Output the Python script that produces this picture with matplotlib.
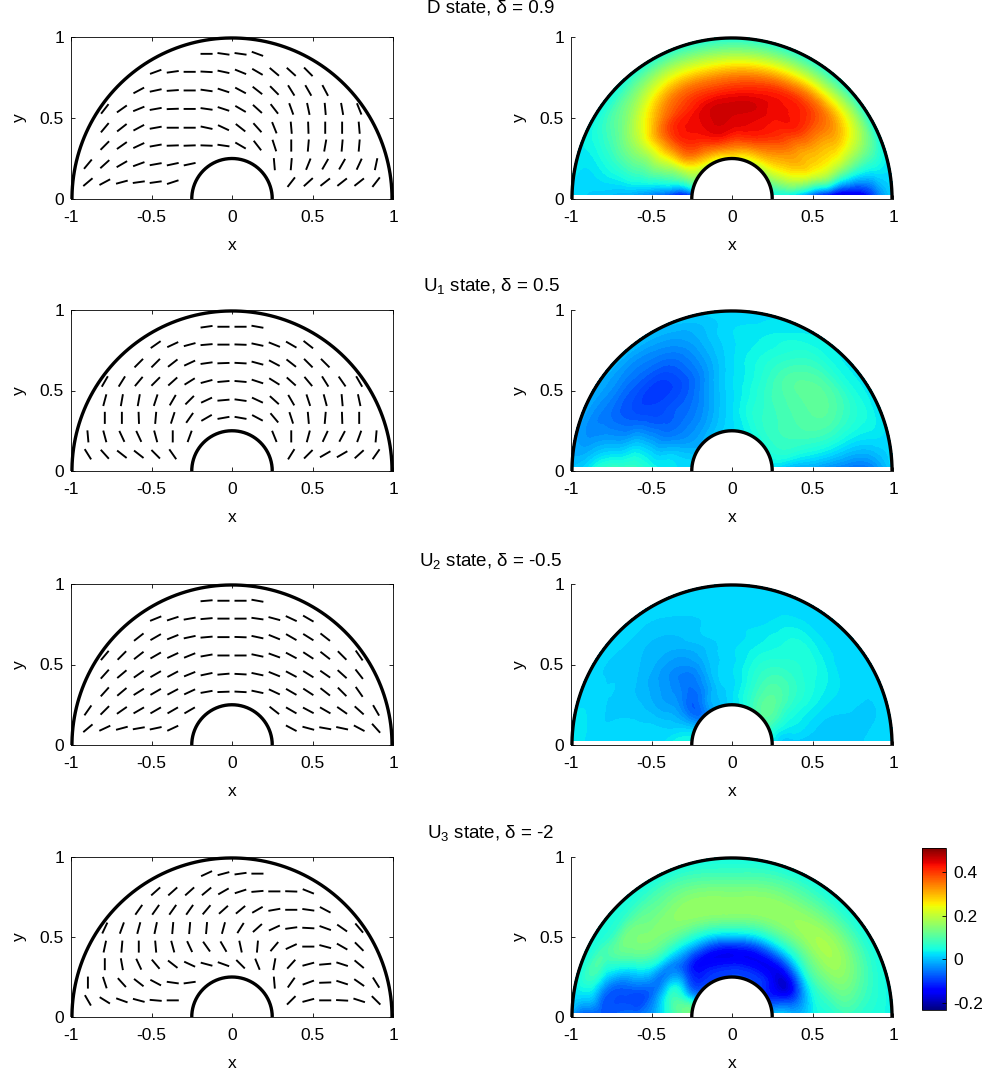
import numpy as np
import matplotlib
matplotlib.use('Agg')
from matplotlib import pyplot as plt
from matplotlib import tri
from matplotlib.patches import Rectangle

plt.rcParams['font.family'] = ['Liberation Sans', 'DejaVu Sans']
plt.rcParams['mathtext.default'] = 'regular'
plt.rcParams['axes.linewidth'] = 0.6

W, H = 989, 1071

titles = ['D state, δ = 0.9', 'U$_1$ state, δ = 0.5', 'U$_2$ state, δ = -0.5', 'U$_3$ state, δ = -2']
title_px = [8, 286, 561, 833]
row_top = [37, 310, 584, 857]
row_bottom = [199, 471, 745, 1017]

x_ticks = [-1, -0.5, 0, 0.5, 1]
x_tick_labels = ['-1', '-0.5', '0', '0.5', '1']
y_ticks = [0, 0.5, 1]
y_tick_labels = ['0', '0.5', '1']
cbar_ticks = [-0.2, 0, 0.2, 0.4]
cbar_tick_labels = ['-0.2', '0', '0.2', '0.4']
vmin, vmax = -0.232, 0.509

# director sample grid
col_x = [-0.895, -0.790, -0.684, -0.579, -0.474, -0.368, -0.263, -0.158, -0.053,
         0.053, 0.158, 0.263, 0.368, 0.474, 0.579, 0.684, 0.790, 0.895]
row_y = [0.896, 0.785, 0.67, 0.556, 0.44, 0.33, 0.215, 0.104]
row_cols = [
    [7, 8, 9, 10],
    [4, 5, 6, 7, 8, 9, 10, 11, 12, 13],
    [3, 4, 5, 6, 7, 8, 9, 10, 11, 12, 13, 14],
    [1, 2, 3, 4, 5, 6, 7, 8, 9, 10, 11, 12, 13, 14, 15, 16],
    [1, 2, 3, 4, 5, 6, 7, 8, 9, 10, 11, 12, 13, 14, 15, 16],
    [1, 2, 3, 4, 5, 6, 7, 8, 9, 10, 11, 12, 13, 14, 15, 16],
    [0, 1, 2, 3, 4, 5, 6, 11, 12, 13, 14, 15, 16, 17],
    [0, 1, 2, 3, 4, 5, 12, 13, 14, 15, 16, 17],
]

# director angles in degrees, one list per row
angles_d = [
    [0, -8, -8, -20],
    [20, 8, 0, -3, -12, -22, -30, -40, -42, -45],
    [28, 12, 4, 0, -8, -18, -28, -38, -45, -58, -60, -62],
    [52, 35, 22, 10, 2, 0, -8, -18, -30, -42, -52, -70, -78, -85, -80, -68],
    [50, 38, 28, 10, 0, 0, -12, -25, -38, -48, -68, -85, -88, 90, 90, -85],
    [45, 35, 25, 10, 2, 2, -2, -8, -30, -52, -72, 90, 85, 80, 85, 85],
    [50, 42, 30, 20, 10, 12, 12, -85, 85, 68, 60, 60, 65, 78],
    [40, 28, 15, 8, 8, 18, 52, 42, 38, 38, 38, 52],
]
angles_u1 = [
    [8, 0, 0, -10],
    [35, 25, 15, 5, 0, -2, -12, -22, -30, -38],
    [45, 45, 38, 25, 8, 2, -3, -15, -28, -38, -45, -45],
    [60, 58, 50, 45, 42, 32, 15, 5, -5, -18, -32, -42, -50, -58, -55, -60],
    [75, 80, 80, 72, 60, 45, 25, 5, -8, -25, -42, -60, -72, -75, -85, -78],
    [90, 90, -88, 85, 72, 55, 30, 10, -10, -28, -50, -72, -85, 85, -88, 90],
    [-85, -75, -65, -65, -75, 90, 70, -68, 90, 75, 65, 62, 70, 85],
    [-58, -48, -38, -38, -45, -55, 58, 45, 30, 30, 42, 55],
]
angles_u2 = [
    [5, 0, 0, -10],
    [22, 18, 10, 5, 0, 0, -8, -15, -25, -30],
    [38, 30, 22, 12, 5, 0, -2, -12, -22, -30, -32, -38],
    [50, 45, 38, 30, 25, 22, 10, 0, 0, -12, -20, -28, -33, -38, -45, -55],
    [48, 40, 35, 30, 28, 22, 12, 5, -3, -12, -22, -28, -32, -35, -42, -52],
    [48, 40, 32, 30, 28, 25, 10, 2, -3, -12, -25, -30, -33, -38, -45, -55],
    [55, 45, 35, 30, 30, 30, 30, -38, -30, -28, -30, -35, -42, -60],
    [40, 25, 15, 10, 12, 25, -28, -15, -10, -12, -28, -48],
]
angles_u3 = [
    [25, 15, 8, 0],
    [42, 42, 42, 40, 30, 18, 5, 0, -2, -22],
    [55, 55, 55, 55, 50, 42, 40, 30, 10, 0, -8, -28],
    [65, 70, 75, 78, 85, 85, 85, 75, 58, 42, 25, 8, -3, -20, -35, -50],
    [78, 85, 90, -85, -75, -65, -55, -60, -78, 85, 50, 25, 0, -15, -30, -45],
    [90, -80, -65, -50, -38, -25, -15, -20, -45, -68, 80, 48, 15, 5, -18, -40],
    [90, -72, -48, -38, -28, -8, 8, -85, 55, 20, 2, -18, -35, -58],
    [-60, -32, -20, -15, -5, 0, 45, 15, 0, -3, -18, -45],
]
all_angles = [angles_d, angles_u1, angles_u2, angles_u3]

# field values on a polar grid (one row per radius, theta 0..180 deg)
grid_r = [0.25, 0.32, 0.40, 0.50, 0.60, 0.70, 0.80, 0.90, 1.00]
grid_theta = [0, 15, 30, 45, 60, 75, 90, 105, 120, 135, 150, 165, 180]
field_d = [
    [.02, .08, .14, .17, .20, .22, .24, .22, .20, .18, .14, .04, -.20],
    [.00, .13, .22, .27, .30, .32, .34, .34, .32, .28, .18, .03, -.20],
    [-.05, .18, .28, .33, .38, .41, .42, .43, .40, .36, .20, .06, -.13],
    [-.14, .20, .30, .37, .42, .44, .45, .45, .43, .38, .22, .08, -.08],
    [-.22, .20, .30, .40, .43, .45, .45, .44, .41, .36, .20, .08, -.04],
    [-.24, .15, .30, .39, .42, .41, .39, .38, .36, .28, .17, .07, -.02],
    [-.20, .10, .27, .33, .33, .31, .29, .28, .27, .20, .12, .05, .00],
    [-.08, .07, .18, .19, .18, .17, .16, .16, .16, .12, .08, .03, .01],
    [.02, .03, .04, .05, .05, .05, .05, .05, .05, .04, .03, .03, .02],
]
field_u1 = [
    [.01, .04, .05, .05, .04, .03, .02, .01, .00, -.01, -.01, .01, .02],
    [-.01, .05, .07, .07, .06, .04, .02, .00, -.02, -.03, -.02, .01, .02],
    [-.03, .05, .08, .08, .07, .05, .02, -.01, -.04, -.05, -.04, .01, .03],
    [-.03, .05, .09, .09, .08, .05, .02, -.02, -.06, -.07, -.06, .00, .05],
    [-.05, .05, .10, .10, .09, .05, .02, -.03, -.08, -.09, -.07, .01, .08],
    [-.06, .04, .10, .11, .09, .05, .02, -.03, -.08, -.10, -.08, -.02, .09],
    [-.07, .03, .08, .09, .07, .04, .02, -.02, -.06, -.07, -.07, -.03, .08],
    [-.04, .03, .05, .05, .05, .03, .02, -.01, -.03, -.04, -.04, -.04, .03],
    [.02, .02, .03, .03, .03, .02, .02, .01, .00, .00, -.01, -.02, .00],
]
field_u2 = [
    [.03, .05, .09, .10, .08, .04, .02, .00, -.02, -.05, -.02, .03, .05],
    [.00, .03, .08, .11, .09, .05, .02, .00, -.03, -.07, -.03, .02, .05],
    [.00, .03, .06, .10, .09, .05, .02, .00, -.05, -.06, -.02, .01, .03],
    [.00, .02, .05, .08, .08, .05, .02, .00, -.05, -.04, -.02, .01, .02],
    [.00, .01, .04, .06, .06, .04, .02, .00, -.03, -.03, -.01, .01, .02],
    [.00, .01, .03, .05, .05, .03, .02, .01, -.01, -.01, .00, .01, .02],
    [.01, .01, .02, .03, .04, .02, .02, .01, .00, .00, .01, .01, .02],
    [.02, .01, .02, .02, .02, .02, .02, .02, .01, .01, .01, .02, .02],
    [.02, .02, .02, .02, .02, .02, .02, .02, .02, .02, .02, .02, .04],
]
field_u3 = [
    [.02, -.06, -.11, -.10, -.09, -.09, -.09, -.09, -.09, -.08, -.03, .10, .14],
    [.03, -.07, -.15, -.13, -.12, -.12, -.12, -.12, -.12, -.11, -.02, .10, .10],
    [.00, -.08, -.17, -.16, -.15, -.15, -.15, -.15, -.14, -.09, .03, .07, .05],
    [.03, .02, .00, -.02, -.02, -.02, -.01, -.02, -.02, -.03, -.05, -.05, -.03],
    [.05, .09, .12, .11, .11, .11, .12, .11, .10, .09, .03, -.08, -.05],
    [.07, .13, .17, .17, .16, .16, .16, .16, .15, .14, .08, -.07, -.06],
    [.06, .11, .15, .15, .14, .14, .13, .14, .13, .13, .11, -.03, -.07],
    [.05, .07, .09, .09, .09, .09, .08, .09, .09, .08, .08, .07, -.09],
    [.04, .04, .04, .04, .04, .04, .04, .04, .04, .04, .04, .03, -.02],
]
all_fields = [field_d, field_u1, field_u2, field_u3]


def axes_px(fig, left, right, top, bottom):
    return fig.add_axes([left / W, 1 - bottom / H, (right - left) / W, (bottom - top) / H])


def style_axes(ax, box):
    ax.set_xlim(-1, 1)
    ax.set_ylim(0, 1)
    ax.set_xticks(x_ticks, x_tick_labels)
    ax.set_yticks(y_ticks, y_tick_labels)
    ax.tick_params(axis='x', direction='in', length=3, width=0.6, labelsize=12.5, pad=8, top=box)
    ax.tick_params(axis='y', direction='in', length=3, width=0.6, labelsize=12.5, pad=5, right=box)
    ax.spines['top'].set_visible(box)
    ax.spines['right'].set_visible(box)
    ax.set_xlabel('x', fontsize=12.5, labelpad=9)
    ax.set_ylabel('y', fontsize=12.5, labelpad=9)


def draw_walls(ax):
    t = np.linspace(0, np.pi, 200)
    ax.plot(0.994 * np.cos(t), 0.994 * np.sin(t), color='k', lw=2.4, clip_on=False, solid_capstyle='butt')
    ax.plot(0.25 * np.cos(t), 0.25 * np.sin(t), color='k', lw=2.4, clip_on=False, solid_capstyle='butt')


def draw_field(ax, field):
    # refine in (r, theta) with the library's cubic interpolator, then map to x, y
    rr, tt = np.meshgrid(grid_r, np.radians(grid_theta), indexing='ij')
    base = tri.Triangulation(rr.ravel(), tt.ravel())
    refiner = tri.UniformTriRefiner(base)
    fine, z = refiner.refine_field(np.array(field).ravel(),
                                   tri.CubicTriInterpolator(base, np.array(field).ravel()), subdiv=3)
    xy = tri.Triangulation(fine.x * np.cos(fine.y), fine.x * np.sin(fine.y), fine.triangles)
    cs = ax.tricontourf(xy, z, levels=levels, cmap='jet', vmin=vmin, vmax=vmax, extend='both')
    cs.set_clip_path(Rectangle((-1, 0.022), 2, 1, transform=ax.transData))
    return cs


fig = plt.figure(figsize=(W / 100, H / 100), dpi=100)
levels = np.linspace(vmin, vmax, 65)
cs = None
for i in range(4):
    fig.text(491 / W, 1 - title_px[i] / H, titles[i], ha='center', va='center', fontsize=13.5)

    ax = axes_px(fig, 71, 393, row_top[i], row_bottom[i])
    style_axes(ax, True)
    for y, cols, angs in zip(row_y, row_cols, all_angles[i]):
        xs = np.array([col_x[c] for c in cols])
        a = np.radians(angs)
        q = ax.quiver(xs, np.full(len(xs), y), 0.075 * np.cos(a), 0.075 * np.sin(a), angles='xy',
                      scale_units='xy', scale=1, pivot='mid', units='dots', width=1.9,
                      headwidth=1, headlength=0, headaxislength=0, color='k')
        q.set_snap(False)
    draw_walls(ax)

    ax = axes_px(fig, 571, 893, row_top[i], row_bottom[i])
    style_axes(ax, False)
    cs = draw_field(ax, all_fields[i])
    draw_walls(ax)

cax = axes_px(fig, 922, 946, 848, 1010)
sm = plt.cm.ScalarMappable(norm=cs.norm, cmap=cs.cmap)
cbar = fig.colorbar(sm, cax=cax, ticks=cbar_ticks)
cbar.ax.set_yticklabels(cbar_tick_labels)
cbar.ax.tick_params(direction='in', length=3, width=0.6, labelsize=12.5, pad=5)
cbar.outline.set_linewidth(0.6)

fig.savefig('out.png', dpi=100)
